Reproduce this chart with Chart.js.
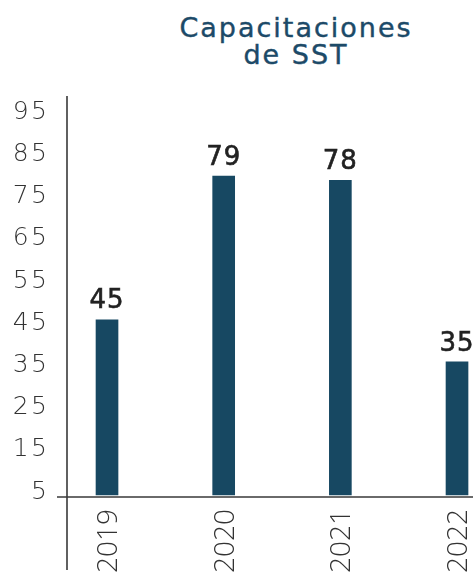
<!DOCTYPE html>
<html lang="es">
<head>
<meta charset="utf-8">
<title>Capacitaciones de SST</title>
<script src="https://cdn.jsdelivr.net/npm/chart.js@4/dist/chart.umd.min.js"></script>
<style>
  html, body { margin:0; padding:0; background:#fff; overflow:hidden; }
  .wrap { position:relative; width:473px; height:579px; }
  .titulo {
    position:absolute; top:14px; left:120px; width:352px;
    text-align:center; color:#1c4a68;
    font-family:"DejaVu Sans", sans-serif; font-size:27px; line-height:27px;
    letter-spacing:2px; -webkit-text-stroke:0.4px #1c4a68;
  }
  canvas { position:absolute; left:0; top:0; }
</style>
</head>
<body>
<div class="wrap">
  <div class="titulo">Capacitaciones<br>de SST</div>
  <canvas id="chart" width="473" height="579"></canvas>
</div>
<script>
// Capacitaciones de SST por año
const years = [2019, 2020, 2021, 2022];
const trainings = [45, 79, 78, 35];
const yTickValues = [5, 15, 25, 35, 45, 55, 65, 75, 85, 95];

const BAR_COLOR = '#174862';
const AXIS_COLOR = '#3a3a3a';
const TICK_COLOR = '#333';
const Y_FONT = { family:'"DejaVu Sans", sans-serif', size:25, weight:200 };

// espaciado entre letras para los números del eje y
const tickSpacing = {
  id:'tickSpacing',
  beforeDraw(chart){ chart.ctx.letterSpacing = '2.5px'; }
};

// ejes dibujados a mano: el vertical baja por debajo del eje x, el horizontal sale a la izquierda
const axisLines = {
  id:'axisLines',
  afterDatasetsDraw(chart){
    const { ctx, chartArea:a } = chart;
    ctx.save();
    ctx.strokeStyle = AXIS_COLOR;
    ctx.lineWidth = 1.6;
    ctx.beginPath();
    ctx.moveTo(a.left, a.top);
    ctx.lineTo(a.left, a.bottom + 73);
    ctx.moveTo(a.left - 10, a.bottom);
    ctx.lineTo(a.right, a.bottom);
    ctx.stroke();
    ctx.restore();
  }
};

// años en vertical bajo cada barra
const yearLabels = {
  id:'yearLabels',
  afterDraw(chart){
    const { ctx, chartArea:a } = chart;
    const xs = chart.scales.x;
    const capH = 20;
    ctx.save();
    ctx.letterSpacing = '0px';
    ctx.fillStyle = TICK_COLOR;
    ctx.font = '300 28px "Open Sans", sans-serif';
    ctx.textAlign = 'right';
    ctx.textBaseline = 'alphabetic';
    years.forEach(yr => {
      const px = xs.getPixelForValue(yr);
      ctx.save();
      ctx.translate(px, a.bottom + 12);
      ctx.rotate(-Math.PI / 2);
      ctx.fillText(String(yr), 0, capH / 2);
      ctx.restore();
    });
    ctx.restore();
  }
};

// valor encima de cada barra
const valueLabels = {
  id:'valueLabels',
  afterDatasetsDraw(chart){
    const { ctx } = chart;
    const meta = chart.getDatasetMeta(0);
    ctx.save();
    ctx.letterSpacing = '1px';
    ctx.fillStyle = '#222';
    ctx.font = '26px "DejaVu Sans", sans-serif';
    ctx.textAlign = 'center';
    ctx.textBaseline = 'bottom';
    ctx.lineWidth = 0.6;
    ctx.strokeStyle = '#222';
    meta.data.forEach((bar, i) => {
      const txt = String(trainings[i]);
      ctx.fillText(txt, bar.x, bar.y - 5);
      ctx.strokeText(txt, bar.x, bar.y - 5);
    });
    ctx.restore();
  }
};

new Chart(document.getElementById('chart'), {
  type:'bar',
  data:{
    datasets:[{
      data: years.map((y, i) => ({ x:y, y:trainings[i] })),
      backgroundColor: BAR_COLOR,
      barThickness: 22,
      base: 3.5
    }]
  },
  options:{
    responsive:false,
    animation:false,
    layout:{ padding:{ top:96, right:0, left:0, bottom:0 } },
    plugins:{ legend:{ display:false }, tooltip:{ enabled:false }, title:{ display:false } },
    scales:{
      x:{
        type:'linear',
        min:2018.657, max:2022.137,
        offset:false,
        grid:{ display:false },
        border:{ display:false },
        ticks:{ display:false },
        afterBuildTicks(axis){ axis.ticks = years.map(v => ({ value:v })); },
        afterFit(scale){ scale.height = 82; scale.paddingLeft = 0; scale.paddingRight = 0; }
      },
      y:{
        min:3, max:98,
        grid:{ display:false, drawTicks:false },
        border:{ display:false },
        ticks:{ color:TICK_COLOR, font: Y_FONT, padding:17.5, labelOffset:3.5 },
        afterBuildTicks(axis){ axis.ticks = yTickValues.map(v => ({ value:v })); },
        afterFit(scale){ scale.width = 67; }
      }
    }
  },
  plugins:[tickSpacing, axisLines, valueLabels, yearLabels]
});
</script>
</body>
</html>
